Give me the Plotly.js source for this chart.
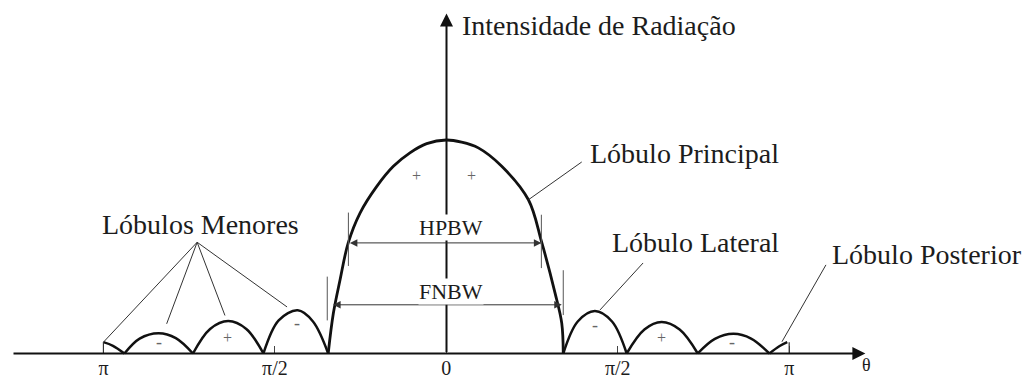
<!DOCTYPE html>
<html>
<head>
<meta charset="utf-8">
<script src="https://cdn.plot.ly/plotly-3.0.1.min.js"></script>
<style>html,body{margin:0;padding:0;background:#fff;}#chart{width:1025px;height:378px;}</style>
</head>
<body>
<div id="chart"></div>
<script>
// ---- data (theta in degrees, intensity normalised to main-lobe peak) ----
const tickTheta = [-180, -90, 0, 90, 180];
const tickText = ['π', 'π/2', '0', 'π/2', 'π'];

const mainTheta = [-62, -59.3, -55.8, -51.5, -45.3, -36.5, -27.8, -19.1, -10.3, 0, 8, 16.8, 29.1, 43.1, 50.1, 57.1, 60.6, 61.4];
const mainI     = [0, 0.188, 0.344, 0.518, 0.658, 0.783, 0.877, 0.94, 0.983, 1.0, 0.99, 0.963, 0.877, 0.72, 0.52, 0.283, 0.142, 0];

const backLeftTheta = [-180, -175, -169];
const backLeftI     = [0.053, 0.036, 0];
const minor1Theta = [-169, -161, -151, -142, -133];
const minor1I     = [0, 0.07, 0.095, 0.072, 0];
const minor2Theta = [-133, -124, -114.5, -105, -96];
const minor2I     = [0, 0.115, 0.152, 0.115, 0];
const minor3Theta = [-96, -88, -78, -70, -62];
const minor3I     = [0, 0.155, 0.202, 0.15, 0];

const lateralTheta = [61.4, 69, 78, 87, 94.7];
const lateralI     = [0, 0.15, 0.199, 0.15, 0];
const minor5Theta = [94.7, 104, 113, 122.5, 132];
const minor5I     = [0, 0.112, 0.147, 0.112, 0];
const minor6Theta = [132, 141, 150.7, 160, 169.6];
const minor6I     = [0, 0.068, 0.092, 0.07, 0];
const backRightTheta = [169.6, 175, 179];
const backRightI     = [0, 0.035, 0.053];

const hpbwEdges = [-51.4, 49.9];
const hpbwLevel = 0.518;
const fnbwEdges = [-60.2, 60.6];
const fnbwLevel = 0.228;

// ---- traces ----
const lobes = [
  [backLeftTheta, backLeftI], [minor1Theta, minor1I], [minor2Theta, minor2I], [minor3Theta, minor3I],
  [mainTheta, mainI],
  [lateralTheta, lateralI], [minor5Theta, minor5I], [minor6Theta, minor6I], [backRightTheta, backRightI]
];
const traces = lobes.map(function (l, i) {
  return {
    x: l[0], y: l[1], type: 'scatter', mode: 'lines', hoverinfo: 'skip',
    line: {color: '#111', width: i === 4 ? 2.8 : 2.5, shape: 'spline', smoothing: 1}
  };
});

function seg(x0, y0, x1, y1, color, width) {
  return {type: 'line', xref: 'x', yref: 'y', x0: x0, y0: y0, x1: x1, y1: y1,
          line: {color: color, width: width}};
}
const shapes = [
  seg(hpbwEdges[0], 0.66, hpbwEdges[0], 0.41, '#555', 1),
  seg(hpbwEdges[1], 0.65, hpbwEdges[1], 0.40, '#555', 1),
  seg(-62.5, 0.36, -62.5, 0.155, '#555', 1),
  seg(61.4, 0.39, 61.4, 0.18, '#555', 1),
  seg(-180, 0.053, -180, 0, '#333', 1.2),
  seg(180, 0.053, 180, 0, '#333', 1.2),
  seg(-130.8, 0.521, -180, 0.053, '#333', 1),
  seg(-130.8, 0.521, -146.8, 0.139, '#333', 1),
  seg(-130.8, 0.521, -116.2, 0.178, '#333', 1),
  seg(-130.8, 0.521, -83.6, 0.218, '#333', 1),
  seg(43.1, 0.72, 71.1, 0.897, '#333', 1),
  seg(80.7, 0.204, 103.3, 0.424, '#333', 1),
  seg(176.2, 0.055, 199.3, 0.415, '#333', 1)
];

const serif = "'Liberation Serif', 'Times New Roman', Times, serif";
function label(txt, x, y, size, extra) {
  const a = {text: txt, x: x, y: y, xref: 'x', yref: 'y', showarrow: false,
             font: {family: serif, size: size, color: '#1c1c1c'}, xanchor: 'center', yanchor: 'middle'};
  return Object.assign(a, extra || {});
}
function sign(txt, x, y) {
  return label(txt, x, y, txt === '+' ? 16 : 18, {font: {family: serif, size: txt === '+' ? 16 : 18, color: '#666'}});
}
function arrow(x, y, ax, ay, opts) {
  return Object.assign({text: '', x: x, y: y, ax: ax, ay: ay, xref: 'x', yref: 'y', axref: 'x', ayref: 'y',
                        showarrow: true, standoff: 0, startstandoff: 0}, opts);
}

const annotations = [
  arrow(220, 0, -228, 0, {arrowhead: 2, arrowsize: 1.3, arrowwidth: 2, arrowcolor: '#111'}),
  arrow(0.1, 1.592, 0.1, 0, {arrowhead: 2, arrowsize: 1.3, arrowwidth: 2, arrowcolor: '#111'}),
  arrow(hpbwEdges[1], hpbwLevel, hpbwEdges[0], hpbwLevel, {arrowside: 'end+start', arrowhead: 2, arrowsize: 1.5, arrowwidth: 1, arrowcolor: '#333'}),
  arrow(fnbwEdges[1], fnbwLevel, fnbwEdges[0], fnbwLevel, {arrowside: 'end+start', arrowhead: 2, arrowsize: 1.5, arrowwidth: 1, arrowcolor: '#333'}),
  label('HPBW', 2.4, 0.588, 22, {bgcolor: '#fff', borderpad: 0}),
  label('FNBW', 2.2, 0.29, 22, {bgcolor: '#fff', borderpad: 0}),
  label('Intensidade de Radiação', 7.2, 1.534, 28, {xanchor: 'left'}),
  label('Lóbulos Menores', -129, 0.606, 28),
  label('Lóbulo Principal', 125.3, 0.937, 28),
  label('Lóbulo Lateral', 130.6, 0.52, 28),
  label('Lóbulo Posterior', 252.2, 0.465, 28),
  label('θ', 220.4, -0.056, 18),
  sign('+', -15.6, 0.836), sign('+', 13.3, 0.836),
  sign('-', -150.8, 0.055), sign('+', -114.8, 0.077), sign('-', -78.5, 0.141),
  sign('-', 78.1, 0.133), sign('+', 113.1, 0.077), sign('-', 149.8, 0.055)
];

const layout = {
  width: 1025, height: 378,
  margin: {l: 0, r: 0, t: 0, b: 0, pad: 0},
  paper_bgcolor: '#fff', plot_bgcolor: '#fff',
  showlegend: false,
  xaxis: {
    range: [-234.3, 303.8], anchor: 'free', position: (378 - 353.5) / 378,
    showgrid: false, zeroline: false, showline: false,
    tickmode: 'array', tickvals: tickTheta, ticktext: tickText,
    ticks: 'inside', ticklen: 8, tickwidth: 1.2, tickcolor: '#444',
    tickfont: {family: serif, size: 20, color: '#1c1c1c'}, fixedrange: true
  },
  yaxis: {range: [-0.1148, 1.6557], visible: false, fixedrange: true},
  shapes: shapes,
  annotations: annotations
};

Plotly.newPlot('chart', traces, layout, {staticPlot: true, displayModeBar: false});
</script>
</body>
</html>
